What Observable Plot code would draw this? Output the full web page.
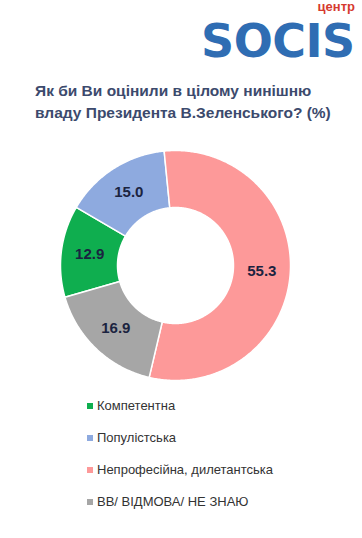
<!DOCTYPE html>
<html>
<head>
<meta charset="utf-8">
<script src="https://cdn.jsdelivr.net/npm/d3@7"></script>
<script src="https://cdn.jsdelivr.net/npm/@observablehq/plot@0.6"></script>
<style>
  html, body { margin: 0; padding: 0; background: #fff; }
  body { width: 362px; height: 538px; position: relative; overflow: hidden; font-family: "Liberation Sans", Arial, sans-serif; }
  #logo { position: absolute; left: 201px; top: 18px; font-family: "DejaVu Sans", sans-serif; font-size: 46px; font-weight: bold; color: #2f6db3; line-height: 46px; letter-spacing: -0.5px; }
  #centr { position: absolute; right: 7px; top: 0px; font-size: 13px; font-weight: bold; color: #d63a2f; line-height: 13px; }
  #title { position: absolute; left: 35px; top: 80px; font-size: 15.5px; font-weight: bold; color: #3c4a6d; line-height: 22px; white-space: nowrap; }
  #chart { position: absolute; left: 0; top: 140px; }
  #legend { position: absolute; left: 87px; top: 398px; font-size: 13px; color: #333; }
  .item { height: 32px; display: flex; align-items: flex-start; }
  .sw { width: 6px; height: 6px; margin-right: 4px; margin-top: 5px; }
</style>
</head>
<body>
<div id="logo">SOCIS</div>
<div id="centr">центр</div>
<div id="title">Як би Ви оцінили в цілому нинішню<br>владу Президента В.Зеленського? (%)</div>
<div id="chart"></div>
<div id="legend"></div>
<script>
const categories = ["Компетентна", "Популістська", "Непрофесійна, дилетантська", "ВВ/ ВІДМОВА/ НЕ ЗНАЮ"];
const values = [12.9, 15.0, 55.3, 16.9];
const colors = ["#0fae4f", "#8eaadf", "#fd9999", "#a6a6a6"];

const data = categories.map((c, i) => ({category: c, value: values[i]}));
const startDeg = 254;
const pie = d3.pie().value(d => d.value).sort(null)
  .startAngle(startDeg * Math.PI / 180).endAngle(startDeg * Math.PI / 180 + 2 * Math.PI);
const arcs = pie(data);

const R0 = 58, R1 = 115;
const polys = [];
for (const a of arcs) {
  const n = Math.max(2, Math.ceil((a.endAngle - a.startAngle) / 0.01));
  for (let k = 0; k <= n; k++) {
    const t = a.startAngle + (a.endAngle - a.startAngle) * k / n;
    polys.push({category: a.data.category, x: R1 * Math.sin(t), y: R1 * Math.cos(t)});
  }
  for (let k = n; k >= 0; k--) {
    const t = a.startAngle + (a.endAngle - a.startAngle) * k / n;
    polys.push({category: a.data.category, x: R0 * Math.sin(t), y: R0 * Math.cos(t)});
  }
}
const labels = arcs.map(a => {
  const t = (a.startAngle + a.endAngle) / 2, r = (R0 + R1) / 2;
  return {category: a.data.category, value: a.data.value, x: r * Math.sin(t), y: r * Math.cos(t)};
});

const plot = Plot.plot({
  width: 362, height: 250,
  margin: 0,
  x: {domain: [-175, 187], axis: null},
  y: {domain: [-125, 125], axis: null},
  color: {domain: categories, range: colors},
  marks: [
    Plot.line(polys, {x: "x", y: "y", z: "category", fill: "category", stroke: "white", strokeWidth: 1.5, curve: "linear-closed"}),
    Plot.text(labels, {x: "x", y: "y", text: d => d.value.toFixed(1), fontSize: 15, fontWeight: "bold", fill: "#1b2340", fontFamily: "Liberation Sans, Arial, sans-serif"})
  ]
});
document.getElementById("chart").appendChild(plot);

const leg = document.getElementById("legend");
categories.forEach((c, i) => {
  const row = document.createElement("div");
  row.className = "item";
  row.innerHTML = `<div class="sw" style="background:${colors[i]}"></div><div>${c}</div>`;
  leg.appendChild(row);
});
</script>
</body>
</html>
